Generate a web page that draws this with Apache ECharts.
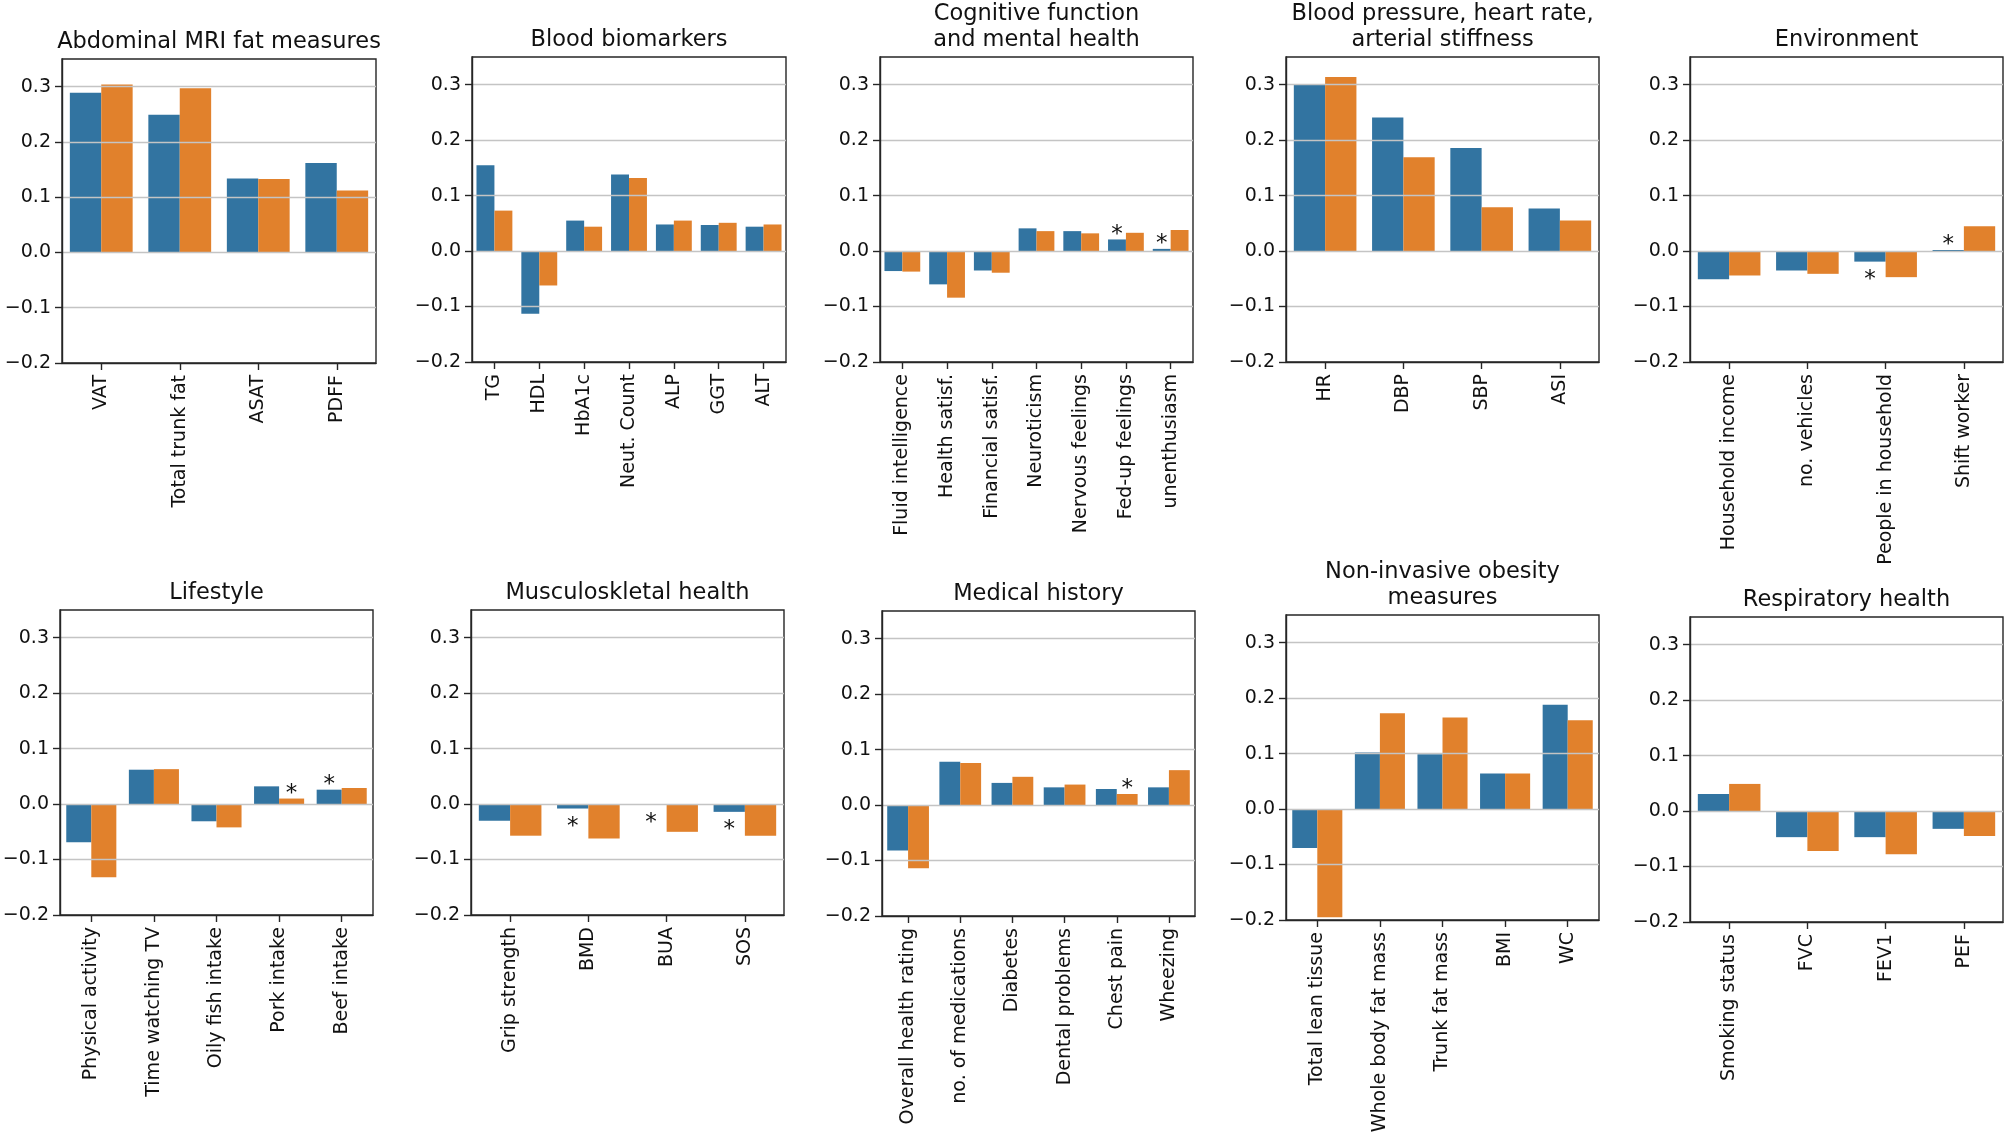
<!DOCTYPE html>
<html><head><meta charset="utf-8">
<script src="https://cdn.jsdelivr.net/npm/echarts@6/dist/echarts.min.js"></script>
<style>html,body{margin:0;padding:0;background:#fff}#c{width:2007px;height:1135px}</style>
</head><body><div id="c"></div>
<script>
// ---------- data ----------
const yTicks = [-0.2, -0.1, 0.0, 0.1, 0.2, 0.3];

const mriTitle = 'Abdominal MRI fat measures';
const mriCats = ['VAT', 'Total trunk fat', 'ASAT', 'PDFF'];
const mriBlue = [0.289, 0.249, 0.134, 0.162];
const mriOrange = [0.304, 0.297, 0.133, 0.112];
const mriStarBlue = [];
const mriStarOrange = [];

const bloodTitle = 'Blood biomarkers';
const bloodCats = ['TG', 'HDL', 'HbA1c', 'Neut. Count', 'ALP', 'GGT', 'ALT'];
const bloodBlue = [0.155, -0.113, 0.055, 0.138, 0.048, 0.047, 0.044];
const bloodOrange = [0.073, -0.062, 0.044, 0.132, 0.055, 0.051, 0.048];
const bloodStarBlue = [];
const bloodStarOrange = [];

const cogTitle = 'Cognitive function\nand mental health';
const cogCats = ['Fluid intelligence', 'Health satisf.', 'Financial satisf.', 'Neuroticism', 'Nervous feelings', 'Fed-up feelings', 'unenthusiasm'];
const cogBlue = [-0.036, -0.060, -0.035, 0.041, 0.036, 0.021, 0.004];
const cogOrange = [-0.037, -0.084, -0.039, 0.036, 0.032, 0.033, 0.038];
const cogStarBlue = ['Fed-up feelings', 'unenthusiasm'];
const cogStarOrange = [];

const bpTitle = 'Blood pressure, heart rate,\narterial stiffness';
const bpCats = ['HR', 'DBP', 'SBP', 'ASI'];
const bpBlue = [0.300, 0.241, 0.186, 0.077];
const bpOrange = [0.314, 0.169, 0.079, 0.055];
const bpStarBlue = [];
const bpStarOrange = [];

const envTitle = 'Environment';
const envCats = ['Household income', 'no. vehicles', 'People in household', 'Shift worker'];
const envBlue = [-0.051, -0.035, -0.019, 0.002];
const envOrange = [-0.044, -0.041, -0.047, 0.045];
const envStarBlue = ['People in household', 'Shift worker'];
const envStarOrange = [];

const lifeTitle = 'Lifestyle';
const lifeCats = ['Physical activity', 'Time watching TV', 'Oily fish intake', 'Pork intake', 'Beef intake'];
const lifeBlue = [-0.069, 0.062, -0.031, 0.032, 0.026];
const lifeOrange = [-0.132, 0.063, -0.042, 0.010, 0.029];
const lifeStarBlue = ['Beef intake'];
const lifeStarOrange = ['Pork intake'];

const muscTitle = 'Musculoskletal health';
const muscCats = ['Grip strength', 'BMD', 'BUA', 'SOS'];
const muscBlue = [-0.030, -0.008, -0.001, -0.014];
const muscOrange = [-0.057, -0.062, -0.050, -0.057];
const muscStarBlue = ['BMD', 'BUA', 'SOS'];
const muscStarOrange = [];

const medTitle = 'Medical history';
const medCats = ['Overall health rating', 'no. of medications', 'Diabetes', 'Dental problems', 'Chest pain', 'Wheezing'];
const medBlue = [-0.082, 0.078, 0.040, 0.032, 0.029, 0.032];
const medOrange = [-0.114, 0.076, 0.051, 0.037, 0.020, 0.063];
const medStarBlue = [];
const medStarOrange = ['Chest pain'];

const obTitle = 'Non-invasive obesity\nmeasures';
const obCats = ['Total lean tissue', 'Whole body fat mass', 'Trunk fat mass', 'BMI', 'WC'];
const obBlue = [-0.070, 0.102, 0.099, 0.064, 0.188];
const obOrange = [-0.195, 0.173, 0.165, 0.064, 0.160];
const obStarBlue = [];
const obStarOrange = [];

const respTitle = 'Respiratory health';
const respCats = ['Smoking status', 'FVC', 'FEV1', 'PEF'];
const respBlue = [0.031, -0.047, -0.047, -0.032];
const respOrange = [0.049, -0.072, -0.078, -0.045];
const respStarBlue = [];
const respStarOrange = [];

// ---------- layout (plot-area boxes) ----------
const layout = [
  [62, 59, 314, 304], [472, 57, 314, 305], [880, 57, 313, 305], [1286, 57, 313, 305], [1690, 57, 313, 305],
  [60, 610, 313, 305], [471, 610, 313, 305], [882, 611, 313, 305], [1286, 615, 313, 305], [1690, 617, 313, 305]
];

const panels = [
  [mriTitle, mriCats, mriBlue, mriOrange, mriStarBlue, mriStarOrange],
  [bloodTitle, bloodCats, bloodBlue, bloodOrange, bloodStarBlue, bloodStarOrange],
  [cogTitle, cogCats, cogBlue, cogOrange, cogStarBlue, cogStarOrange],
  [bpTitle, bpCats, bpBlue, bpOrange, bpStarBlue, bpStarOrange],
  [envTitle, envCats, envBlue, envOrange, envStarBlue, envStarOrange],
  [lifeTitle, lifeCats, lifeBlue, lifeOrange, lifeStarBlue, lifeStarOrange],
  [muscTitle, muscCats, muscBlue, muscOrange, muscStarBlue, muscStarOrange],
  [medTitle, medCats, medBlue, medOrange, medStarBlue, medStarOrange],
  [obTitle, obCats, obBlue, obOrange, obStarBlue, obStarOrange],
  [respTitle, respCats, respBlue, respOrange, respStarBlue, respStarOrange]
];

const W = 2007, H = 1135;
const FONT = 'DejaVu Sans';
const BLUE = '#3274a1', ORANGE = '#e1812c';
const INK = '#111111', SPINE = '#262626', GRIDC = '#c4c4c4';
const TICKFS = 19, TITLEFS = 22.5;

const fmtY = v => {
  if (Math.abs(v) < 1e-9) return '0.0';
  const s = v.toFixed(1);
  return s.replace('-', '\u2212');
};

const grids = [], xAxes = [], yAxes = [], series = [], titles = [];
panels.forEach((p, i) => {
  const [title, cats, blue, orange, sb, so] = p;
  const [l, t, w, h] = layout[i];
  grids.push({left: l, top: t, width: w, height: h, show: true, borderColor: SPINE, borderWidth: 1.4,
    backgroundColor: 'transparent', containLabel: false, outerBoundsMode: 'none'});
  titles.push({text: title, left: l + w / 2, bottom: H - (t - 3.5), textAlign: 'center', padding: 0, itemGap: 0,
    textStyle: {fontFamily: FONT, fontSize: TITLEFS, fontWeight: 'normal', color: INK, lineHeight: 26}});
  xAxes.push({gridIndex: i, type: 'category', data: cats,
    axisLine: {show: true, onZero: false, lineStyle: {color: SPINE, width: 1.4}},
    axisTick: {show: true, alignWithLabel: true, length: 7, lineStyle: {color: SPINE, width: 1.4}},
    axisLabel: {rotate: 90, interval: 0, fontFamily: FONT, fontSize: TICKFS, color: INK, margin: 12},
    splitLine: {show: false}});
  yAxes.push({gridIndex: i, type: 'value', min: yTicks[0], max: 0.35, interval: 0.1, z: 3,
    axisLine: {show: true, lineStyle: {color: SPINE, width: 1.4}},
    axisTick: {show: true, length: 7, lineStyle: {color: SPINE, width: 1.4}},
    axisLabel: {showMaxLabel: false, fontFamily: FONT, fontSize: TICKFS, color: INK, margin: 11, formatter: fmtY},
    splitLine: {show: true, showMaxLine: false, showMinLine: false, lineStyle: {color: GRIDC, width: 1.4}}});
  const mk = (vals, stars) => vals.map((v, j) => {
    const item = {value: v};
    if (stars.indexOf(cats[j]) >= 0) {
      item.label = {show: true, position: v >= 0 ? 'top' : 'bottom', formatter: '*',
        distance: v >= 0 ? -7 : 7, fontFamily: FONT, fontSize: 23, color: INK};
    }
    return item;
  });
  series.push({type: 'bar', xAxisIndex: i, yAxisIndex: i, data: mk(blue, sb), barGap: '0%', barCategoryGap: '20%',
    itemStyle: {color: BLUE}, label: {show: false}, z: 2});
  series.push({type: 'bar', xAxisIndex: i, yAxisIndex: i, data: mk(orange, so), barGap: '0%', barCategoryGap: '20%',
    itemStyle: {color: ORANGE}, label: {show: false}, z: 2});
});

const chart = echarts.init(document.getElementById('c'), null, {renderer: 'canvas', width: W, height: H});
chart.setOption({animation: false, backgroundColor: '#fff', title: titles, grid: grids, xAxis: xAxes, yAxis: yAxes, series: series});
</script></body></html>
